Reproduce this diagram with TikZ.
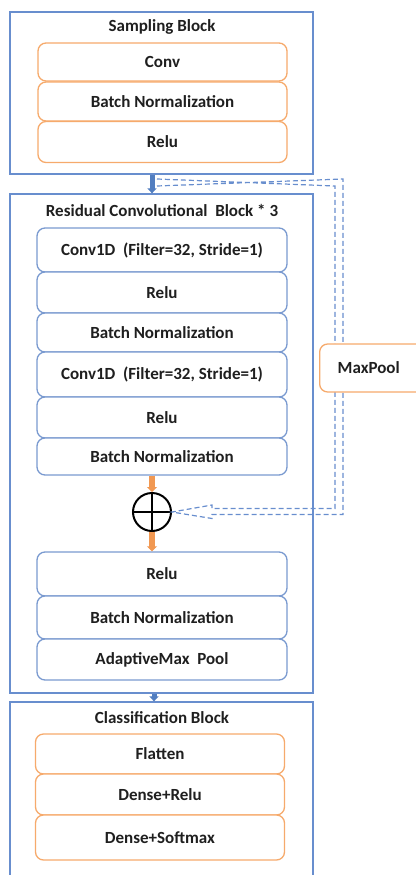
\documentclass[tikz,border=0pt]{standalone}
\usepackage{fontspec}
\setmainfont{Carlito}
\usetikzlibrary{arrows.meta}
\definecolor{blockblue}{RGB}{104,142,206}
\definecolor{layerblue}{RGB}{122,154,208}
\definecolor{layerorange}{RGB}{246,170,108}
\definecolor{arroworange}{RGB}{241,152,82}
\definecolor{arrowblue}{RGB}{82,126,192}
\tikzset{
  labelfont/.style={font=\fontsize{17}{20}\selectfont\bfseries,text=black!88},
  block/.style={draw=blockblue,line width=1.3pt,minimum width=303pt,inner sep=0pt},
  blocktitle/.style={labelfont},
  olayer/.style={labelfont,draw=layerorange,line width=1.3pt,fill=white,
    rounded corners=8pt,minimum width=249pt,inner sep=0pt},
  blayer/.style={labelfont,draw=layerblue,line width=1.3pt,fill=white,
    rounded corners=8pt,minimum width=250pt,inner sep=0pt},
  bluearrow/.style={arrowblue,line width=5pt,-{Triangle[width=9pt,length=5pt]}},
  orangearrow/.style={arroworange,line width=6pt,-{Triangle[width=10pt,length=5pt]}},
  skipline/.style={blockblue,line width=1.2pt,dash pattern=on 5pt off 3pt}
}
\begin{document}
\begin{tikzpicture}[x=1pt,y=-1pt]
\useasboundingbox (0,0) rectangle (415,875);
% sampling block
\node[block,minimum height=162pt] (sampling) at (161.5,93) {};
\node[blocktitle] (samptitle) at (162,27) {Sampling Block};
\node[olayer,minimum height=38pt] (conv) at (162.5,62) {Conv};
\node[olayer,minimum height=39pt] (sbn) at (162.5,101.5) {Batch Normalization};
\node[olayer,minimum height=41pt] (srelu) at (162.5,142) {Relu};
% residual block
\node[block,minimum height=499pt] (residual) at (161.5,443.5) {};
\node[blocktitle] (restitle) at (162,210) {Residual Convolutional~ Block * 3};
\node[blayer,minimum height=44pt] (conva) at (162,250) {Conv1D~ (Filter=32, Stride=1)};
\node[blayer,minimum height=41pt] (relua) at (162,292.5) {Relu};
\node[blayer,minimum height=39pt] (bna) at (162,332.5) {Batch Normalization};
\node[blayer,minimum height=45pt] (convb) at (162,374.5) {Conv1D~ (Filter=32, Stride=1)};
\node[blayer,minimum height=41pt] (relub) at (162,417.5) {Relu};
\node[blayer,minimum height=37pt] (bnb) at (162,456.5) {Batch Normalization};
\node[circle,draw=black,line width=2pt,minimum size=38pt,inner sep=0pt] (plus) at (152,512) {};
\draw[black,line width=2pt] (plus.north) -- (plus.south) (plus.west) -- (plus.east);
\node[blayer,minimum height=44pt] (reluc) at (162,574) {Relu};
\node[blayer,minimum height=43pt] (bnc) at (162,617.5) {Batch Normalization};
\node[blayer,minimum height=41pt] (amp) at (162,659.5) {AdaptiveMax~ Pool};
% classification block
\node[block,minimum height=184pt] (classif) at (161.5,794) {};
\node[blocktitle] (clstitle) at (162,718) {Classification Block};
\node[olayer,minimum height=40pt] (flat) at (160,754) {Flatten};
\node[olayer,minimum height=41pt] (dense) at (160,794.5) {Dense+Relu};
\node[olayer,minimum height=45pt] (soft) at (160,837.5) {Dense+Softmax};
% skip connection
\coordinate (skip) at (157,182.5);
\draw[skipline] ([yshift=-3.5pt]skip) -- (343,179) -- (343,514.5) -- (212,514.5)
  -- (212,518.5) -- (plus.east) -- (212,505) -- (212,508.5) -- (335,508.5)
  -- (335,186) -- ([yshift=3.5pt]skip);
\node[labelfont,draw=layerorange,line width=1.3pt,fill=white,rounded corners=8pt,
  anchor=west,minimum height=48pt,text width=76pt,inner xsep=18pt,align=left] (maxpool) at (319,368) {MaxPool};
% arrows
\draw[bluearrow] (sampling.south -| plus) -- (residual.north -| plus);
\draw[orangearrow] (bnb.south -| plus) -- (plus.north);
\draw[orangearrow] (plus.south) -- (reluc.north -| plus);
\draw[bluearrow] ([xshift=2pt]residual.south -| plus) -- ([xshift=2pt]classif.north -| plus);
\end{tikzpicture}
\end{document}
